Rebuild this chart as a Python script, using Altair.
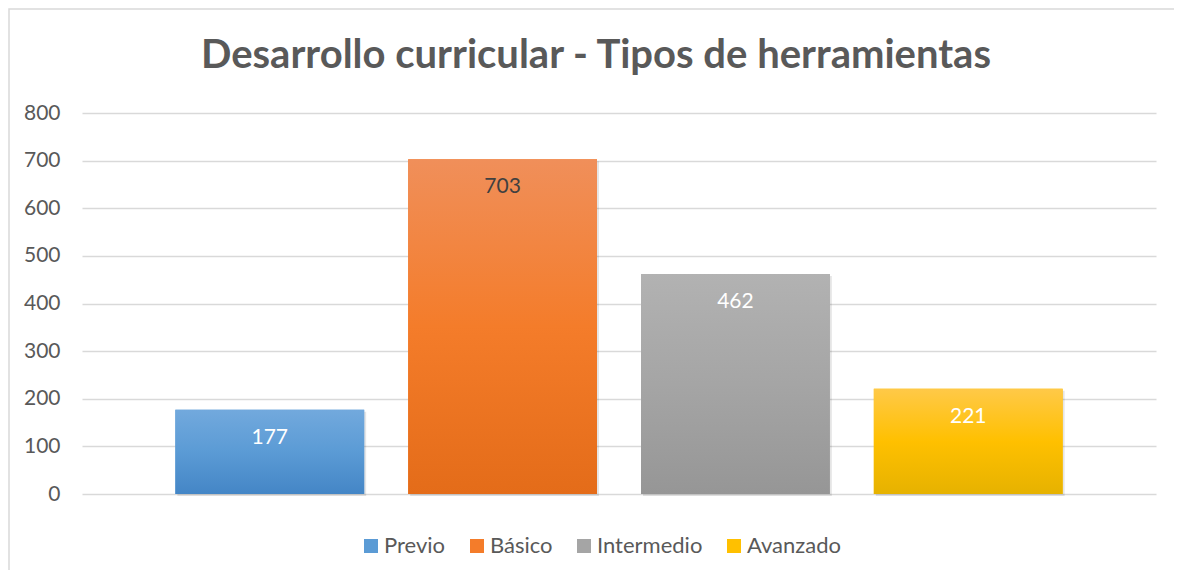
import altair as alt
import pandas as pd

title_text = "Desarrollo curricular - Tipos de herramientas"
categories = ["Previo", "Básico", "Intermedio", "Avanzado"]
values = [177, 703, 462, 221]
label_colors = ["#ffffff", "#404040", "#ffffff", "#ffffff"]
legend_colors = ["#5b9bd5", "#f47c2a", "#a5a5a5", "#ffc000"]
gradient_top = ["#72a9dd", "#f08f5a", "#b2b2b2", "#ffc948"]
gradient_mid = ["#5b9bd5", "#f47c2a", "#a5a5a5", "#ffc000"]
gradient_bottom = ["#4486c6", "#e46c19", "#969696", "#e6b200"]
y_ticks = [0, 100, 200, 300, 400, 500, 600, 700, 800]

FONT = "Lato"
W, H = 1074, 381

df = pd.DataFrame({"cat": categories, "value": values, "lab": label_colors})

x_enc = alt.X(
    "cat:N",
    sort=categories,
    scale=alt.Scale(domain=categories, paddingInner=0.189, paddingOuter=0.401),
    axis=None,
)
y_enc = alt.Y(
    "value:Q",
    scale=alt.Scale(domain=[0, 800], nice=False),
    axis=alt.Axis(
        values=y_ticks,
        grid=True,
        gridColor="#d9d9d9",
        gridWidth=1.5,
        domain=False,
        ticks=False,
        labelFont=FONT,
        labelFontSize=21,
        labelColor="#595959",
        labelPadding=22,
        title=None,
    ),
)

base = alt.Chart(df)

legend_layer = base.mark_bar().encode(
    x=x_enc,
    y=y_enc,
    color=alt.Color(
        "cat:N",
        sort=categories,
        scale=alt.Scale(domain=categories, range=legend_colors),
        legend=alt.Legend(
            orient="none",
            legendX=278,
            legendY=422,
            direction="horizontal",
            title=None,
            symbolType="square",
            symbolSize=196,
            symbolStrokeWidth=0,
            labelFont=FONT,
            labelFontSize=22,
            labelColor="#595959",
            labelOffset=2,
            columnPadding=20,
            gridAlign="none",
            padding=0,
        ),
    ),
)

shadow = base.mark_bar(color="#000000", opacity=0.10, xOffset=2, yOffset=2).encode(
    x=x_enc, y=y_enc
)

grad_layers = []
for i, c in enumerate(categories):
    grad = alt.Gradient(
        gradient="linear",
        x1=0, x2=0, y1=0, y2=1,
        stops=[
            alt.GradientStop(offset=0, color=gradient_top[i]),
            alt.GradientStop(offset=0.5, color=gradient_mid[i]),
            alt.GradientStop(offset=1, color=gradient_bottom[i]),
        ],
    )
    grad_layers.append(
        base.transform_filter(alt.datum.cat == c).mark_bar(color=grad).encode(x=x_enc, y=y_enc)
    )

text_layer = base.mark_text(dy=28, baseline="middle", font=FONT, fontSize=21).encode(
    x=x_enc,
    y=y_enc,
    text="value:Q",
    color=alt.Color("lab:N", scale=None),
)

title_layer = alt.Chart(pd.DataFrame({"t": [title_text]})).mark_text(
    font=FONT, fontSize=40, fontWeight="bold", color="#595959",
    align="center", baseline="alphabetic", clip=False,
).encode(text="t:N", x=alt.value(514), y=alt.value(-45))

border = alt.Chart(pd.DataFrame({"a": [0]})).mark_rect(
    fillOpacity=0, stroke="#d9d9d9", strokeWidth=1.5, clip=False
).encode(
    x=alt.value(-73), x2=alt.value(1200), y=alt.value(-104), y2=alt.value(700)
)

chart = alt.layer(shadow, legend_layer, *grad_layers, text_layer, title_layer, border).properties(
    width=W,
    height=H,
    autosize=alt.AutoSizeParams(type="none"),
    padding={"left": 74, "top": 105, "right": 18, "bottom": 76},
).configure(background="white").configure_view(stroke=None)

chart.save("out.html", embed_options={"renderer": "svg", "actions": False})
